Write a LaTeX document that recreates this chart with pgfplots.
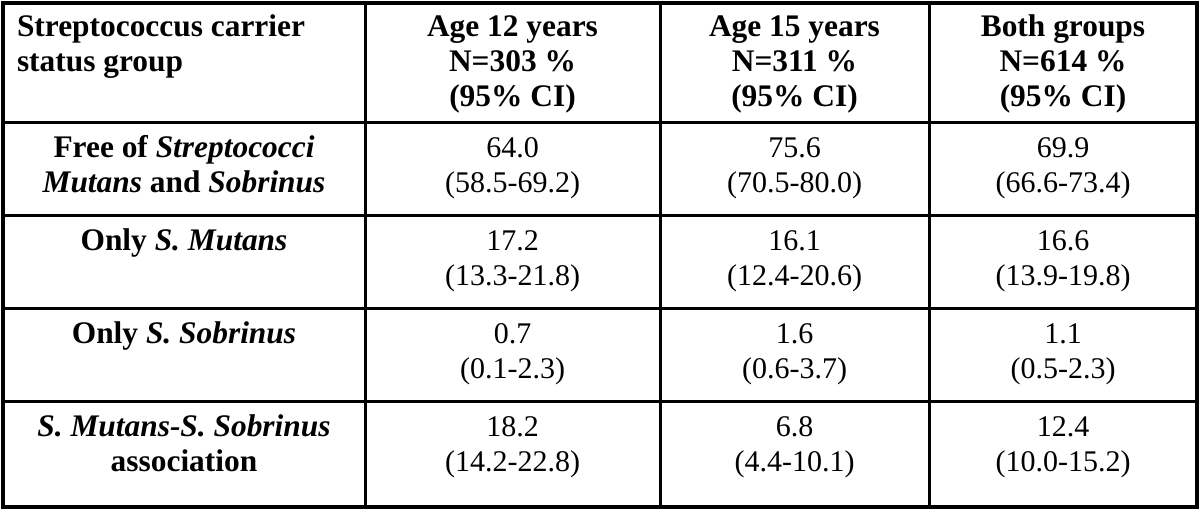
\documentclass[border=0pt]{standalone}
\usepackage{fontspec}
\setmainfont{Liberation Serif}
\usepackage{pgfplots}
\pgfplotsset{compat=1.18}
\tikzset{cell/.style={anchor=base, inner sep=0pt, outer sep=0pt, font=\fontsize{15bp}{17.5bp}\selectfont},
  bcell/.style={anchor=base, inner sep=0pt, outer sep=0pt, font=\fontsize{15.7bp}{17.5bp}\selectfont\bfseries}}
\begin{document}
\fontsize{15bp}{17.5bp}\selectfont
\begin{tikzpicture}
\begin{axis}[
  width=600bp, height=255bp, scale only axis,
  xmin=0, xmax=1200, ymin=0, ymax=510,
  y dir=reverse,
  hide axis, clip=false,
]
\path (axis cs:0,0) rectangle (axis cs:1200,510);
% grid lines
\addplot[black, line width=1.8bp, line join=miter, line cap=rect] coordinates {(3,3) (1197,3) (1197,507) (3,507) (3,3)};
\addplot[black, line width=1.5bp] coordinates {(3,123) (1197,123)};
\addplot[black, line width=1.5bp] coordinates {(3,216) (1197,216)};
\addplot[black, line width=1.5bp] coordinates {(3,309) (1197,309)};
\addplot[black, line width=1.5bp] coordinates {(3,402) (1197,402)};
\addplot[black, line width=1.5bp] coordinates {(365,3) (365,507)};
\addplot[black, line width=1.5bp] coordinates {(660,3) (660,507)};
\addplot[black, line width=1.5bp] coordinates {(929,3) (929,507)};
% header
\node[bcell, anchor=base west] at (axis cs:17,37) {Streptococcus carrier};
\node[bcell, anchor=base west] at (axis cs:17,72) {status group};
\node[bcell] at (axis cs:512.5,37) {Age 12 years};
\node[bcell] at (axis cs:512.5,72) {N=303 \%};
\node[bcell] at (axis cs:512.5,107) {(95\% CI)};
\node[bcell] at (axis cs:794.5,37) {Age 15 years};
\node[bcell] at (axis cs:794.5,72) {N=311 \%};
\node[bcell] at (axis cs:794.5,107) {(95\% CI)};
\node[bcell] at (axis cs:1063,37) {Both groups};
\node[bcell] at (axis cs:1063,72) {N=614 \%};
\node[bcell] at (axis cs:1063,107) {(95\% CI)};
% row 1
\node[bcell] at (axis cs:184,158) {Free of \textit{Streptococci}};
\node[bcell] at (axis cs:184,193) {\textit{Mutans} and \textit{Sobrinus}};
\node[cell] at (axis cs:512.5,158) {64.0};
\node[cell] at (axis cs:512.5,193) {(58.5-69.2)};
\node[cell] at (axis cs:794.5,158) {75.6};
\node[cell] at (axis cs:794.5,193) {(70.5-80.0)};
\node[cell] at (axis cs:1063,158) {69.9};
\node[cell] at (axis cs:1063,193) {(66.6-73.4)};
% row 2
\node[bcell] at (axis cs:184,251) {Only \textit{S. Mutans}};
\node[cell] at (axis cs:512.5,251) {17.2};
\node[cell] at (axis cs:512.5,286) {(13.3-21.8)};
\node[cell] at (axis cs:794.5,251) {16.1};
\node[cell] at (axis cs:794.5,286) {(12.4-20.6)};
\node[cell] at (axis cs:1063,251) {16.6};
\node[cell] at (axis cs:1063,286) {(13.9-19.8)};
% row 3
\node[bcell] at (axis cs:184,344) {Only \textit{S. Sobrinus}};
\node[cell] at (axis cs:512.5,344) {0.7};
\node[cell] at (axis cs:512.5,379) {(0.1-2.3)};
\node[cell] at (axis cs:794.5,344) {1.6};
\node[cell] at (axis cs:794.5,379) {(0.6-3.7)};
\node[cell] at (axis cs:1063,344) {1.1};
\node[cell] at (axis cs:1063,379) {(0.5-2.3)};
% row 4
\node[bcell] at (axis cs:184,437) {\textit{S. Mutans-S. Sobrinus}};
\node[bcell] at (axis cs:184,472) {association};
\node[cell] at (axis cs:512.5,437) {18.2};
\node[cell] at (axis cs:512.5,472) {(14.2-22.8)};
\node[cell] at (axis cs:794.5,437) {6.8};
\node[cell] at (axis cs:794.5,472) {(4.4-10.1)};
\node[cell] at (axis cs:1063,437) {12.4};
\node[cell] at (axis cs:1063,472) {(10.0-15.2)};
\end{axis}
\end{tikzpicture}
\end{document}
